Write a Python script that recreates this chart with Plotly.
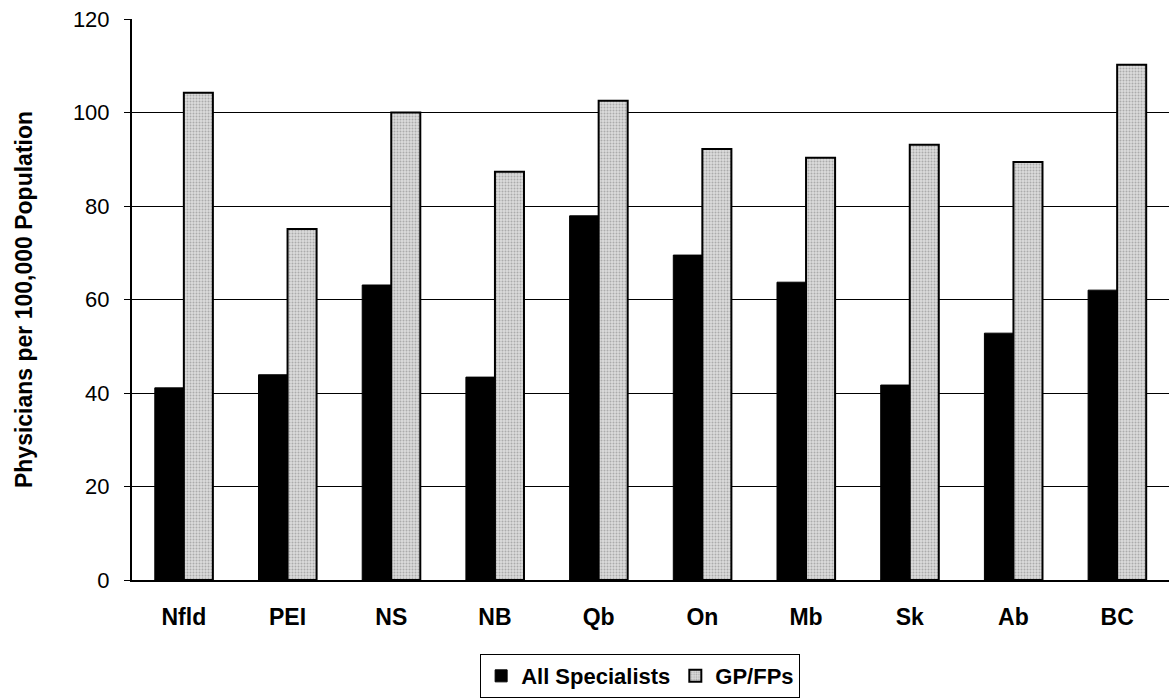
import plotly.graph_objects as go

provinces = ["Nfld", "PEI", "NS", "NB", "Qb", "On", "Mb", "Sk", "Ab", "BC"]
all_specialists = [41.1, 43.9, 63.1, 43.4, 77.9, 69.5, 63.7, 41.7, 52.8, 62.0]
gp_fps = [104.2, 75.1, 100.0, 87.3, 102.5, 92.2, 90.3, 93.1, 89.4, 110.2]
y_ticks = [0, 20, 40, 60, 80, 100, 120]

font_family = "Arial, Liberation Sans, sans-serif"

fig = go.Figure()
fig.add_trace(go.Bar(
    x=provinces, y=all_specialists, name="All Specialists",
    marker=dict(color="#000000", line=dict(color="#000000", width=1)),
))
fig.add_trace(go.Bar(
    x=provinces, y=gp_fps, name="GP/FPs",
    marker=dict(
        color="#d4d4d4",
        line=dict(color="#000000", width=2),
        pattern=dict(shape=".", fgcolor="#7a7a7a", bgcolor="#dcdcdc",
                     size=3, solidity=0.35),
    ),
))

fig.update_layout(
    width=1169, height=700,
    margin=dict(l=132, r=0, t=19, b=120, autoexpand=False),
    paper_bgcolor="white", plot_bgcolor="white",
    barmode="group", bargap=0.44, bargroupgap=0.0,
    font=dict(family=font_family, color="black"),
    showlegend=True,
    legend=dict(
        orientation="h", x=0.49, xanchor="center", y=-0.132, yanchor="top",
        bordercolor="black", borderwidth=1, bgcolor="white",
        font=dict(size=22, family=font_family, weight="bold"),
        itemwidth=30, tracegroupgap=0,
    ),
    xaxis=dict(
        showline=True, linecolor="black", linewidth=2,
        ticks="", tickfont=dict(size=23, family=font_family, weight="bold"),
        ticklabelstandoff=15,
    ),
    yaxis=dict(
        range=[0, 120], tickvals=y_ticks,
        showgrid=True, gridcolor="black", gridwidth=1,
        showline=True, linecolor="black", linewidth=2,
        ticks="outside", ticklen=6, tickcolor="black", tickwidth=1,
        tickfont=dict(size=22, family=font_family),
        ticklabelstandoff=10,
        zeroline=False,
        title=dict(text="Physicians per 100,000 Population",
                   font=dict(size=23, family=font_family, weight="bold"),
                   standoff=34),
    ),
)

fig.write_html("out.html")
